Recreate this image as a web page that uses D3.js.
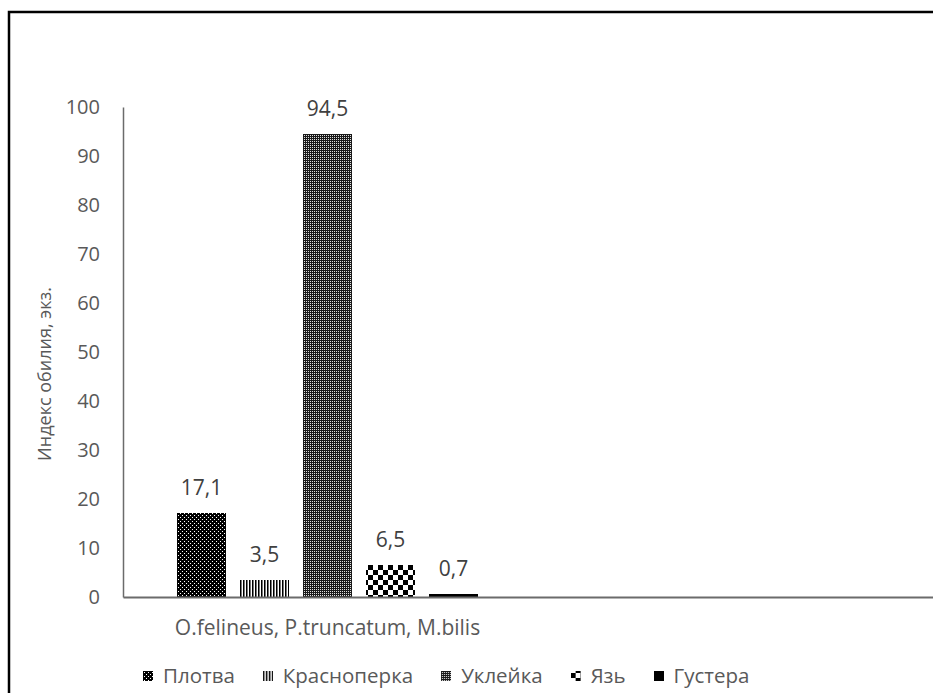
<!DOCTYPE html>
<html><head><meta charset="utf-8">
<script src="https://cdn.jsdelivr.net/npm/d3@7"></script>
<style>
html,body{margin:0;padding:0;background:#fff;}
svg{display:block;font-family:"Open Sans",sans-serif;}
</style></head>
<body>
<svg id="chart" width="933" height="693"></svg>
<script>
const categories = ["O.felineus, P.truncatum, M.bilis", ""];
const series = ["Плотва", "Красноперка", "Уклейка", "Язь", "Густера"];
const values = [17.1, 3.5, 94.5, 6.5, 0.7];
const yTicks = [0, 10, 20, 30, 40, 50, 60, 70, 80, 90, 100];
const yTitle = "Индекс обилия, экз.";

const svg = d3.select("#chart");
const plot = {left: 123, right: 941, top: 107, bottom: 597};

// patterns
const defs = svg.append("defs");
function pat(id, w, h, draw) {
  const p = defs.append("pattern").attr("id", id).attr("patternUnits", "userSpaceOnUse")
    .attr("width", w).attr("height", h);
  draw(p);
}
pat("p0", 4, 4, p => {
  p.append("rect").attr("width", 4).attr("height", 4).attr("fill", "#000");
  p.append("rect").attr("x", 1).attr("y", 1).attr("width", 1).attr("height", 1).attr("fill", "#fff");
  p.append("rect").attr("x", 3).attr("y", 3).attr("width", 1).attr("height", 1).attr("fill", "#fff");
});
pat("p1", 3, 3, p => {
  p.append("rect").attr("width", 3).attr("height", 3).attr("fill", "#fff");
  p.append("rect").attr("x", 0).attr("width", 1).attr("height", 3).attr("fill", "#000");
  p.append("rect").attr("x", 1).attr("width", 1).attr("height", 3).attr("fill", "#777");
});
pat("p2", 2, 2, p => {
  p.append("rect").attr("width", 2).attr("height", 2).attr("fill", "#1a1a1a");
  p.append("rect").attr("x", 1).attr("y", 1).attr("width", 1).attr("height", 1).attr("fill", "#e0e0e0");
});
pat("p3", 10, 10, p => {
  p.append("rect").attr("width", 10).attr("height", 10).attr("fill", "#fff");
  p.append("rect").attr("width", 5).attr("height", 5).attr("fill", "#000");
  p.append("rect").attr("x", 5).attr("y", 5).attr("width", 5).attr("height", 5).attr("fill", "#000");
});
const fills = ["url(#p0)", "url(#p1)", "url(#p2)", "url(#p3)", "#000"];

// outer border
svg.append("rect").attr("x", 9).attr("y", 12).attr("width", 960).attr("height", 720)
  .attr("fill", "none").attr("stroke", "#000").attr("stroke-width", 2.5);

const x0 = d3.scaleBand().domain(categories).range([plot.left, plot.right]);
const x1 = d3.scaleBand().domain(series).range([0, x0.bandwidth()])
  .paddingInner(0.22).paddingOuter(0.855);
const y = d3.scaleLinear().domain([0, 100]).range([plot.bottom, plot.top]);

// bars
const g = svg.append("g").attr("transform", `translate(${x0(categories[0])},0)`);
g.selectAll("rect.bar").data(values).join("rect").attr("class", "bar")
  .attr("x", (d, i) => x1(series[i]))
  .attr("width", x1.bandwidth())
  .attr("y", d => y(d))
  .attr("height", d => y(0) - y(d))
  .attr("fill", (d, i) => fills[i])
  .attr("shape-rendering", "crispEdges");

const fmt = v => d3.format(".1f")(v).replace(".", ",");
g.selectAll("text.lab").data(values).join("text").attr("class", "lab")
  .attr("x", (d, i) => x1(series[i]) + x1.bandwidth() / 2)
  .attr("y", d => y(d) - 18)
  .attr("text-anchor", "middle")
  .attr("font-size", 21).attr("fill", "#404040")
  .text(d => fmt(d));

// y axis
const yAxis = d3.axisLeft(y).tickValues(yTicks).tickSize(0).tickPadding(23);
const ya = svg.append("g").attr("transform", `translate(${plot.left},0)`).call(yAxis);
ya.select(".domain").attr("stroke", "#6b6b6b").attr("stroke-width", 1.5);
ya.selectAll("text").attr("font-size", 20).attr("fill", "#595959")
  .attr("font-family", "'Open Sans',sans-serif");

// x axis
const xAxis = d3.axisBottom(x0).tickSize(0).tickPadding(23);
const xa = svg.append("g").attr("transform", `translate(0,${plot.bottom})`).call(xAxis);
xa.select(".domain").attr("stroke", "#6b6b6b").attr("stroke-width", 2);
xa.selectAll("text").attr("font-size", 21).attr("fill", "#595959")
  .attr("font-family", "'Open Sans',sans-serif");

// y title
svg.append("text").attr("transform", `translate(51,374) rotate(-90)`)
  .attr("text-anchor", "middle").attr("font-size", 18).attr("fill", "#595959")
  .text(yTitle);

// legend
const legend = svg.append("g").attr("transform", "translate(143,683)");
let lx = 0;
series.forEach((s, i) => {
  const it = legend.append("g").attr("transform", `translate(${lx},0)`);
  it.append("rect").attr("x", 0).attr("y", -12).attr("width", 10).attr("height", 10)
    .attr("fill", fills[i]).attr("shape-rendering", "crispEdges");
  const t = it.append("text").attr("x", 20).attr("font-size", 20.5)
    .attr("fill", "#595959").text(s);
  lx += 20 + t.node().getComputedTextLength() + 28;
});
</script>
</body></html>
